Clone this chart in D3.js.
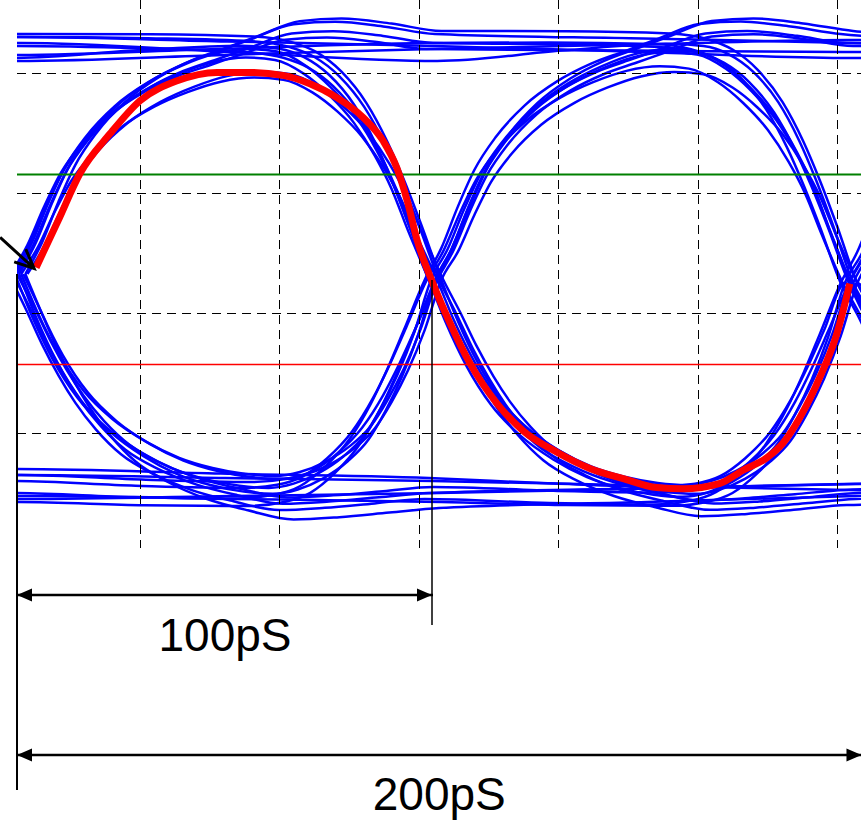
<!DOCTYPE html>
<html>
<head>
<meta charset="utf-8">
<script src="https://cdn.jsdelivr.net/npm/d3@7"></script>
<style>
  html, body { margin: 0; padding: 0; background: #fff; }
  svg { display: block; }
</style>
</head>
<body>
<main></main>
<script>
// time in ps, level in mV
const gridTimes = [29.6, 63.1, 96.6, 130.1, 163.6, 197.1];
const gridLevels = [300, 100, -100, -300];
const greenLevel = 131;
const redLevel = -186;
const crossTimes = [0, 100, 200];
const crossLevels = [-35, -45, -50];

// edge shapes per bit pattern (prev, cur, next): [t within UI, fraction crossing->level]
const rise011 = [[0,0],[4,0.13],[8,0.3],[12,0.45],[17,0.58],[24,0.71],[32,0.81],[40,0.88],[48,0.93],[56,0.98],[66,1.04],[76,1.05],[88,1.03],[100,1]];
const rise010 = [[0,0],[4,0.13],[8,0.3],[12,0.45],[17,0.58],[24,0.71],[32,0.81],[40,0.88],[48,0.93],[56,0.95],[63,0.94],[70,0.88],[76,0.79],[82,0.67],[87,0.53],[91,0.39],[95,0.21],[100,0]];
const fall110 = [[0,1],[30,1.01],[55,1.01],[64,0.99],[70,0.95],[76,0.87],[82,0.74],[87,0.58],[91,0.42],[95,0.24],[100,0]];
const hold111 = [[0,1],[50,1],[100,1]];
const fall100 = [[0,0],[4,0.15],[8,0.31],[12,0.45],[16,0.57],[21,0.69],[27,0.8],[35,0.89],[44,0.96],[54,1.01],[65,1.05],[76,1.04],[88,1.02],[100,1]];
const fall101 = [[0,0],[4,0.19],[9,0.39],[15,0.57],[22,0.71],[30,0.82],[38,0.9],[46,0.95],[54,0.98],[61,0.99],[67,0.97],[73,0.92],[79,0.84],[84,0.74],[88,0.61],[92,0.45],[96,0.25],[100,0]];
const rise001 = [[0,1],[30,1.01],[55,1.01],[64,0.99],[70,0.95],[76,0.86],[82,0.73],[87,0.57],[91,0.41],[95,0.23],[100,0]];
const hold000 = [[0,1],[50,1],[100,1]];

// blue traces: bits before / UI1 / UI2 / UI3, settled level of each bit, time shift
const traceBits = ['0000','0000','0001','0001','0010','0010','0011','0011',
                   '0100','0100','0101','0101','0110','0110','0111','0111',
                   '1000','1000','1001','1001','1010','1010','1011','1011',
                   '1100','1100','1101','1101','1110','1110','1111','1111'];
const traceLevels = [
  [-370,-380,-395,-405],[-410,-400,-385,-375],[-360,-375,-395,-390],[-405,-415,-420,-400],
  [-380,-395,330,-390],[-415,-420,360,-400],[-370,-385,345,350],[-400,-410,365,330],
  [-380,320,-400,-395],[-360,360,-420,-410],[-395,310,-395,340],[-375,345,-410,320],
  [-390,350,330,-400],[-410,370,355,-380],[-380,340,335,355],[-405,365,350,330],
  [330,-400,-385,-370],[355,-425,-405,-390],[320,-390,-400,330],[345,-410,-420,350],
  [340,-380,320,-395],[360,-405,355,-375],[310,-395,350,355],[350,-375,370,330],
  [360,340,-410,-395],[325,355,-395,-380],[345,320,-390,345],[365,350,-405,325],
  [330,350,340,-400],[350,320,365,-385],[360,345,325,340],[320,340,355,335]];
const traceShift = [0,1.5,-1,2,-1.5,0.5,1,-2,2.5,-0.5,1,-1,0,2,-1.5,0.5,
                    -1,1.5,0,-2,2,0.5,-0.5,1,1.5,-1,0,2,-2,1,0.5,-0.5];

// highlighted trace
const redT = [4.6,9.9,15.1,22.4,29.6,38.5,48.1,56.0,63.9,70.4,76.9,83.2,88.0,91.3,93.8,96.2,100,
              104.1,108.9,115.4,121.6,129.8,137.7,145.7,153.8,160.1,169.0,174.5,180.3,184.1,188.2,193.0,197.1,200.2];
const redV = [-24,54,132,199,254,287,301,301,296,282,259,226,187,142,87,21,-51,
              -117,-184,-251,-296,-332,-359,-376,-391,-393,-384,-362,-341,-317,-274,-207,-134,-51];

const dimLabels = ['100pS', '200pS'];
const dimEnds = [100, 203];

const w = 861;
const h = 820;
const svg = d3.select('main').append('svg').attr('width', w).attr('height', h);
const x = d3.scaleLinear().domain([0, 200]).range([17, 849]);
const y = d3.scaleLinear().domain([300, -300]).range([73, 433]);
const crossAt = d3.scaleLinear().domain(crossTimes).range(crossLevels).clamp(true);
const px = v => Math.round(v) + 0.5;

const templates = {
  '011': rise011, '010': rise010, '110': fall110, '111': hold111,
  '100': fall100, '101': fall101, '001': rise001, '000': hold000
};

function tracePoints(bits, lv, dt) {
  const pts = [];
  for (let k = 1; k < bits.length; k++) {
    const prev = bits[k - 1], cur = bits[k], next = bits[k + 1] || cur;
    const tpl = templates[prev + cur + next];
    const t0 = (k - 1) * 100;
    tpl.forEach(([t, u], i) => {
      if (k > 1 && i === 0) return;
      const vc = crossAt(t0 + t);
      const L = prev === cur ? lv[k - 1] + (lv[k] - lv[k - 1]) * t / 100 : lv[k];
      const v = vc + u * (L - vc);
      if (k === 1 && i === 0 && u !== 0) pts.push([-10, v]);
      pts.push([t0 + t + dt, v]);
    });
  }
  return pts;
}

svg.append('defs').append('clipPath').attr('id', 'plot')
  .append('rect').attr('x', 17).attr('y', 0).attr('width', w - 17).attr('height', 560);
const plot = svg.append('g').attr('clip-path', 'url(#plot)');

const line = d3.line().x(d => x(d[0])).y(d => y(d[1])).curve(d3.curveMonotoneX);

plot.append('g')
  .selectAll('path')
  .data(traceBits)
  .enter()
  .append('path')
  .attr('d', (b, i) => line(tracePoints(b, traceLevels[i], traceShift[i])))
  .attr('fill', 'none')
  .attr('stroke', '#0000ff')
  .attr('stroke-width', 2.5);

// dashed grid
plot.append('g')
  .selectAll('line')
  .data(gridTimes)
  .enter()
  .append('line')
  .attr('x1', d => px(x(d))).attr('x2', d => px(x(d)))
  .attr('y1', 0).attr('y2', 548)
  .attr('stroke', '#000').attr('stroke-width', 1).attr('stroke-dasharray', '9,6')
  .attr('shape-rendering', 'crispEdges');
plot.append('g')
  .selectAll('line')
  .data(gridLevels)
  .enter()
  .append('line')
  .attr('x1', 17).attr('x2', w)
  .attr('y1', d => px(y(d))).attr('y2', d => px(y(d)))
  .attr('stroke', '#000').attr('stroke-width', 1).attr('stroke-dasharray', '9,6')
  .attr('shape-rendering', 'crispEdges');

plot.append('line')
  .attr('x1', 17).attr('x2', w)
  .attr('y1', y(greenLevel)).attr('y2', y(greenLevel))
  .attr('stroke', '#008000').attr('stroke-width', 2);
plot.append('line')
  .attr('x1', 17).attr('x2', w)
  .attr('y1', y(redLevel)).attr('y2', y(redLevel))
  .attr('stroke', '#ff0000').attr('stroke-width', 1.5);

plot.append('path')
  .datum(d3.zip(redT, redV))
  .attr('d', line)
  .attr('fill', 'none')
  .attr('stroke', '#ff0000')
  .attr('stroke-width', 7);

// pointer to the red trace
const tip = [x(redT[0]) - 2, y(redV[0]) + 1];
const tail = [tip[0] - 34, tip[1] - 31];
const ang = Math.atan2(tip[1] - tail[1], tip[0] - tail[0]);
const barb = a => [tip[0] - 21 * Math.cos(ang + a), tip[1] - 21 * Math.sin(ang + a)];
svg.append('path')
  .attr('d', `M${tail}L${tip}M${barb(0.42)}L${tip}L${barb(-0.42)}`)
  .attr('fill', 'none').attr('stroke', '#000').attr('stroke-width', 3);

// dimension lines
svg.append('line').attr('x1', x(0)).attr('x2', x(0))
  .attr('y1', y(crossLevels[0])).attr('y2', 790)
  .attr('stroke', '#000').attr('stroke-width', 2);
svg.append('line').attr('x1', x(100) - 1).attr('x2', x(100) - 1)
  .attr('y1', y(crossLevels[1])).attr('y2', 625)
  .attr('stroke', '#000').attr('stroke-width', 1.5);

const rows = [595, 755];
const baselines = [651, 810];
const dims = svg.append('g').selectAll('g').data(dimLabels).enter().append('g');
dims.append('line')
  .attr('x1', x(0)).attr('x2', (d, i) => x(dimEnds[i]))
  .attr('y1', (d, i) => rows[i]).attr('y2', (d, i) => rows[i])
  .attr('stroke', '#000').attr('stroke-width', 2.5);
dims.append('path')
  .attr('d', (d, i) => {
    const a = x(0), b = x(dimEnds[i]) - (i === 0 ? 1 : 0), r = rows[i];
    return `M${a},${r}L${a + 15},${r - 6.5}L${a + 15},${r + 6.5}Z` +
           `M${b},${r}L${b - 15},${r - 6.5}L${b - 15},${r + 6.5}Z`;
  })
  .attr('fill', '#000');
dims.append('text')
  .attr('x', (d, i) => (x(0) + x(dimEnds[i])) / 2)
  .attr('y', (d, i) => baselines[i])
  .attr('text-anchor', 'middle')
  .attr('font-family', '"Liberation Sans", Arial, sans-serif')
  .attr('font-size', 46)
  .attr('fill', '#000')
  .text(d => d);
</script>
</body>
</html>
